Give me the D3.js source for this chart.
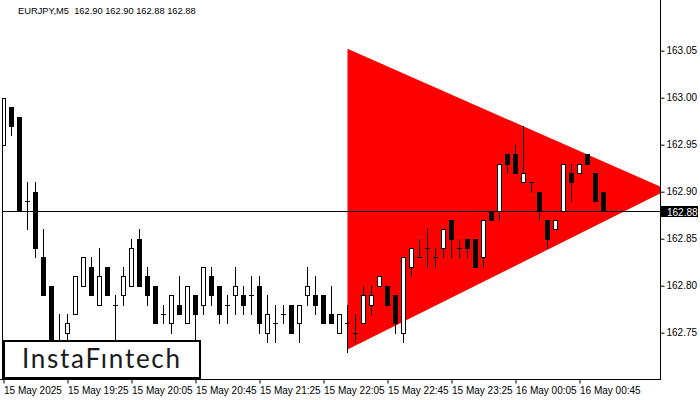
<!DOCTYPE html>
<html><head><meta charset="utf-8">
<script src="https://cdn.jsdelivr.net/npm/d3@7"></script>
<style>
body{margin:0;background:#fff}
svg{display:block}
text{font-family:"Liberation Sans",Arial,sans-serif}
</style>
</head><body>
<svg id="c" width="700" height="400"></svg>
<script>
const titleText = "EURJPY,M5  162.90 162.90 162.88 162.88";
const opens  = [162.95,162.99,162.98,162.89,162.90,162.83,162.80,162.73,162.75,162.77,
                162.80,162.82,162.78,162.82,162.78,162.79,162.80,162.85,162.81,162.80,
                162.77,162.76,162.78,162.76,162.79,162.78,162.81,162.80,162.78,162.79,
                162.79,162.79,162.80,162.75,162.76,162.77,162.78,162.76,162.79,162.79,
                162.79,162.77,162.75,162.76,162.75,162.76,162.78,162.80,162.80,162.79,
                162.75,162.82,162.83,162.84,162.83,162.84,162.87,162.84,162.85,162.85,
                162.83,162.88,162.88,162.94,162.94,162.91,162.91,162.90,162.87,162.86,
                162.88,162.92,162.92,162.94,162.92,162.90];
const highs  = [163.00,162.99,162.98,162.91,162.91,162.86,162.80,162.77,162.77,162.81,
                162.83,162.83,162.84,162.82,162.79,162.82,162.85,162.86,162.82,162.80,
                162.78,162.79,162.81,162.80,162.79,162.82,162.82,162.80,162.79,162.82,
                162.80,162.81,162.81,162.79,162.78,162.78,162.78,162.78,162.82,162.81,
                162.79,162.80,162.77,162.78,162.77,162.80,162.80,162.81,162.80,162.79,
                162.83,162.84,162.85,162.86,162.84,162.86,162.87,162.85,162.85,162.85,
                162.87,162.88,162.93,162.94,162.95,162.97,162.91,162.90,162.87,162.87,
                162.93,162.93,162.93,162.94,162.92,162.90];
const lows   = [162.95,162.96,162.88,162.86,162.83,162.79,162.72,162.72,162.74,162.77,
                162.80,162.79,162.78,162.79,162.73,162.78,162.80,162.80,162.78,162.76,
                162.76,162.75,162.77,162.76,162.73,162.77,162.78,162.76,162.76,162.77,
                162.77,162.77,162.75,162.74,162.74,162.76,162.75,162.74,162.78,162.77,
                162.76,162.76,162.75,162.73,162.74,162.76,162.77,162.80,162.78,162.75,
                162.74,162.81,162.83,162.82,162.82,162.83,162.83,162.83,162.83,162.82,
                162.82,162.87,162.87,162.92,162.92,162.91,162.90,162.87,162.84,162.86,
                162.88,162.89,162.92,162.93,162.89,162.88];
const closes = [163.00,162.97,162.88,162.89,162.84,162.79,162.73,162.74,162.76,162.81,
                162.83,162.79,162.81,162.79,162.78,162.81,162.84,162.80,162.79,162.76,
                162.77,162.79,162.77,162.80,162.77,162.82,162.79,162.77,162.78,162.80,
                162.78,162.79,162.76,162.77,162.76,162.77,162.75,162.78,162.80,162.78,
                162.76,162.76,162.77,162.76,162.75,162.79,162.79,162.81,162.78,162.76,
                162.83,162.84,162.83,162.84,162.83,162.86,162.85,162.84,162.84,162.82,
                162.87,162.87,162.93,162.93,162.92,162.92,162.91,162.88,162.85,162.87,
                162.93,162.91,162.93,162.93,162.89,162.88];
const timeTickIdx = [0,8,16,24,32,40,48,56,64,72];
const timeTickLabels = ["15 May 2025","15 May 19:25","15 May 20:05","15 May 20:45","15 May 21:25",
                        "15 May 22:05","15 May 22:45","15 May 23:25","16 May 00:05","16 May 00:45"];
const priceTicks = [162.75,162.80,162.85,162.90,162.95,163.00,163.05];
const currentPrice = 162.88;
const triangleIdx = [43,43,83];
const trianglePrices = [163.052,162.732,162.902];
const logoText = "InstaFıntech";

const svg = d3.select("#c");
const plotL = 3, plotR = 660, plotT = 0, plotB = 379;
const x = d3.scaleLinear().domain([0, 75]).range([3.5, 603.5]);
const y = d3.scaleLinear().domain([162.75, 163.05]).range([332.7, 50.7]);
const py = p => Math.round(y(p));

svg.append("defs").append("clipPath").attr("id","plot")
  .append("rect").attr("x",plotL).attr("y",plotT).attr("width",plotR-plotL).attr("height",plotB-plotT);

const plot = svg.append("g").attr("clip-path","url(#plot)");

// triangle
const triPts = triangleIdx.map((d,i)=>[x(d), y(trianglePrices[i])]);
plot.append("path").attr("d", d3.line()(triPts)+"Z").attr("fill","#ff0000");

// candles
const bars = d3.range(opens.length).map(i=>({i,o:opens[i],h:highs[i],l:lows[i],c:closes[i]}));
const cg = plot.append("g");
bars.forEach(b=>{
  const cx = x(b.i);
  cg.append("line").attr("x1",cx).attr("x2",cx)
    .attr("y1",py(b.h)).attr("y2",py(b.l)+1)
    .attr("stroke","#000").attr("stroke-width",1);
  if (b.c > b.o) {
    cg.append("rect").attr("x",cx-2).attr("width",4)
      .attr("y",py(b.c)+0.5).attr("height",py(b.o)-py(b.c))
      .attr("fill","#fff").attr("stroke","#000").attr("stroke-width",1);
  } else if (b.c < b.o) {
    cg.append("rect").attr("x",cx-2.5).attr("width",5)
      .attr("y",py(b.o)).attr("height",py(b.c)-py(b.o)+1)
      .attr("fill","#000");
  } else {
    cg.append("line").attr("x1",cx-2.5).attr("x2",cx+2.5)
      .attr("y1",py(b.o)+0.5).attr("y2",py(b.o)+0.5)
      .attr("stroke","#000").attr("stroke-width",1);
  }
});

// current price line
plot.append("line").attr("x1",plotL).attr("x2",plotR)
  .attr("y1",py(currentPrice)+0.5).attr("y2",py(currentPrice)+0.5)
  .attr("stroke","#000").attr("stroke-width",1);

// frame lines
svg.append("line").attr("x1",plotR+0.5).attr("x2",plotR+0.5).attr("y1",0).attr("y2",plotB+1).attr("stroke","#000");
svg.append("line").attr("x1",0).attr("x2",plotR+1).attr("y1",plotB+0.5).attr("y2",plotB+0.5).attr("stroke","#000");
svg.append("line").attr("x1",plotL-0.5).attr("x2",plotL-0.5).attr("y1",py(closes[0])).attr("y2",plotB).attr("stroke","#000");

// price axis
const ya = svg.append("g").attr("transform",`translate(${plotR+0.5},0)`)
  .call(d3.axisRight(y).tickValues(priceTicks).tickFormat(d3.format(".2f")).tickSize(4).tickPadding(2));
ya.select(".domain").remove();
ya.selectAll("text").attr("font-size","10px").attr("fill","#000").style("font-family","'Liberation Sans',Arial,sans-serif");
ya.selectAll("line").attr("stroke","#000");

// current price label
svg.append("rect").attr("x",plotR+1).attr("y",py(currentPrice)-5).attr("width",37).attr("height",11).attr("fill","#000");
svg.append("text").attr("x",plotR+7).attr("y",py(currentPrice)+4.5).attr("font-size","10px").attr("fill","#fff")
  .text(d3.format(".2f")(currentPrice));

// time axis
const xa = svg.append("g").attr("transform",`translate(0,${plotB+0.5})`)
  .call(d3.axisBottom(x).tickValues(timeTickIdx).tickFormat((d,i)=>timeTickLabels[i]).tickSize(4).tickPadding(3));
xa.select(".domain").remove();
xa.selectAll("line").attr("stroke","#000");
xa.selectAll("text").attr("font-size","10px").attr("fill","#000").attr("text-anchor","start").attr("dx","0")
  .style("font-family","'Liberation Sans',Arial,sans-serif");

// title
svg.append("text").attr("x",18).attr("y",14).attr("font-size","9.3px").attr("fill","#000")
  .style("white-space","pre").text(titleText);

// logo
svg.append("rect").attr("x",4).attr("y",341).attr("width",196).attr("height",37)
  .attr("fill","#fff").attr("stroke","#000").attr("stroke-width",2);
svg.append("text").attr("x",22).attr("y",368).attr("font-size","26px").attr("fill","#1a1a1a")
  .style("font-family","Lato, 'Open Sans', sans-serif").attr("textLength",158).text(logoText);
</script>
</body></html>
